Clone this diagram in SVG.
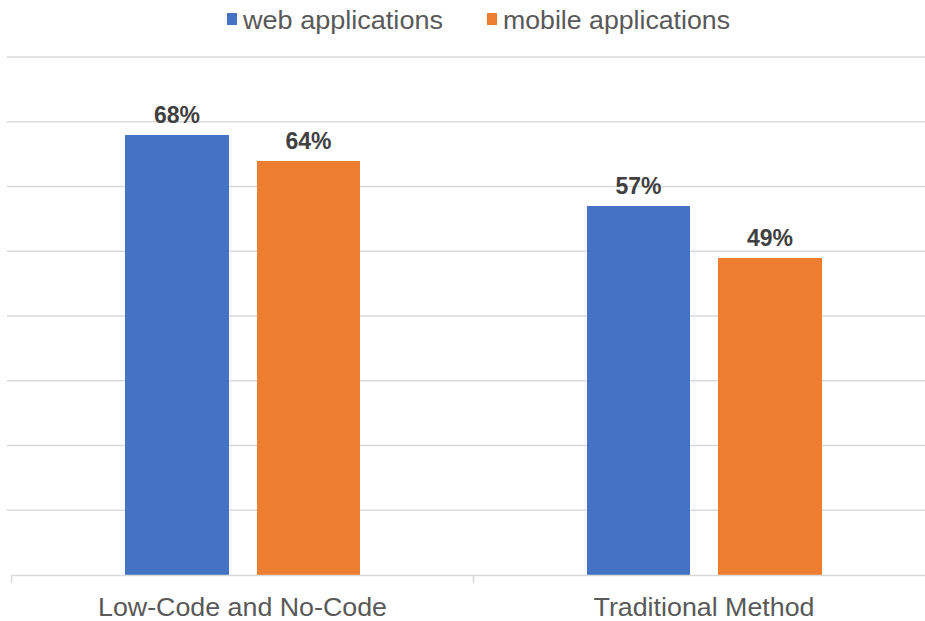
<svg xmlns="http://www.w3.org/2000/svg" width="925" height="621" viewBox="0 0 925 621">
<style>
.grid{stroke:#d9d9d9;stroke-width:1.5;fill:none}
.web{fill:#4472C4}
.mob{fill:#ED7D31}
.val{font-family:"Liberation Sans",Arial,sans-serif;font-weight:bold;font-size:23px;fill:#404040;text-anchor:middle}
.cat{font-family:"Liberation Sans",Arial,sans-serif;font-size:25px;fill:#595959;text-anchor:middle}
.leg{font-family:"Liberation Sans",Arial,sans-serif;font-size:25px;fill:#595959}
</style>
<rect width="925" height="621" fill="#ffffff"/>
<g id="gridlines">
<line class="grid" x1="7" y1="57" x2="925" y2="57"/>
<line class="grid" x1="7" y1="121.75" x2="925" y2="121.75"/>
<line class="grid" x1="7" y1="186.5" x2="925" y2="186.5"/>
<line class="grid" x1="7" y1="251.25" x2="925" y2="251.25"/>
<line class="grid" x1="7" y1="316" x2="925" y2="316"/>
<line class="grid" x1="7" y1="380.75" x2="925" y2="380.75"/>
<line class="grid" x1="7" y1="445.5" x2="925" y2="445.5"/>
<line class="grid" x1="7" y1="510.25" x2="925" y2="510.25"/>
</g>
<g id="legend">
<rect class="web" x="227" y="13" width="10" height="12"/>
<text class="leg" x="243" y="29" textLength="200" lengthAdjust="spacingAndGlyphs">web applications</text>
<rect class="mob" x="487" y="13" width="10" height="12"/>
<text class="leg" x="503" y="29" textLength="227" lengthAdjust="spacingAndGlyphs">mobile applications</text>
</g>
<g id="bars">
<rect class="web" x="125" y="135" width="104" height="440"/>
<rect class="mob" x="257" y="161" width="103" height="414"/>
<rect class="web" x="587" y="206" width="103" height="369"/>
<rect class="mob" x="718" y="258" width="104" height="317"/>
</g>
<g id="values">
<text class="val" x="177" y="123">68%</text>
<text class="val" x="308.5" y="149">64%</text>
<text class="val" x="638.5" y="194">57%</text>
<text class="val" x="770" y="246">49%</text>
</g>
<g id="axis">
<line class="grid" x1="11" y1="575.5" x2="925" y2="575.5"/>
<line class="grid" x1="11.5" y1="575" x2="11.5" y2="583"/>
<line class="grid" x1="473.5" y1="575" x2="473.5" y2="583"/>
<text class="cat" x="242.5" y="616" textLength="289" lengthAdjust="spacingAndGlyphs">Low-Code and No-Code</text>
<text class="cat" x="704" y="616" textLength="221" lengthAdjust="spacingAndGlyphs">Traditional Method</text>
</g>
</svg>
